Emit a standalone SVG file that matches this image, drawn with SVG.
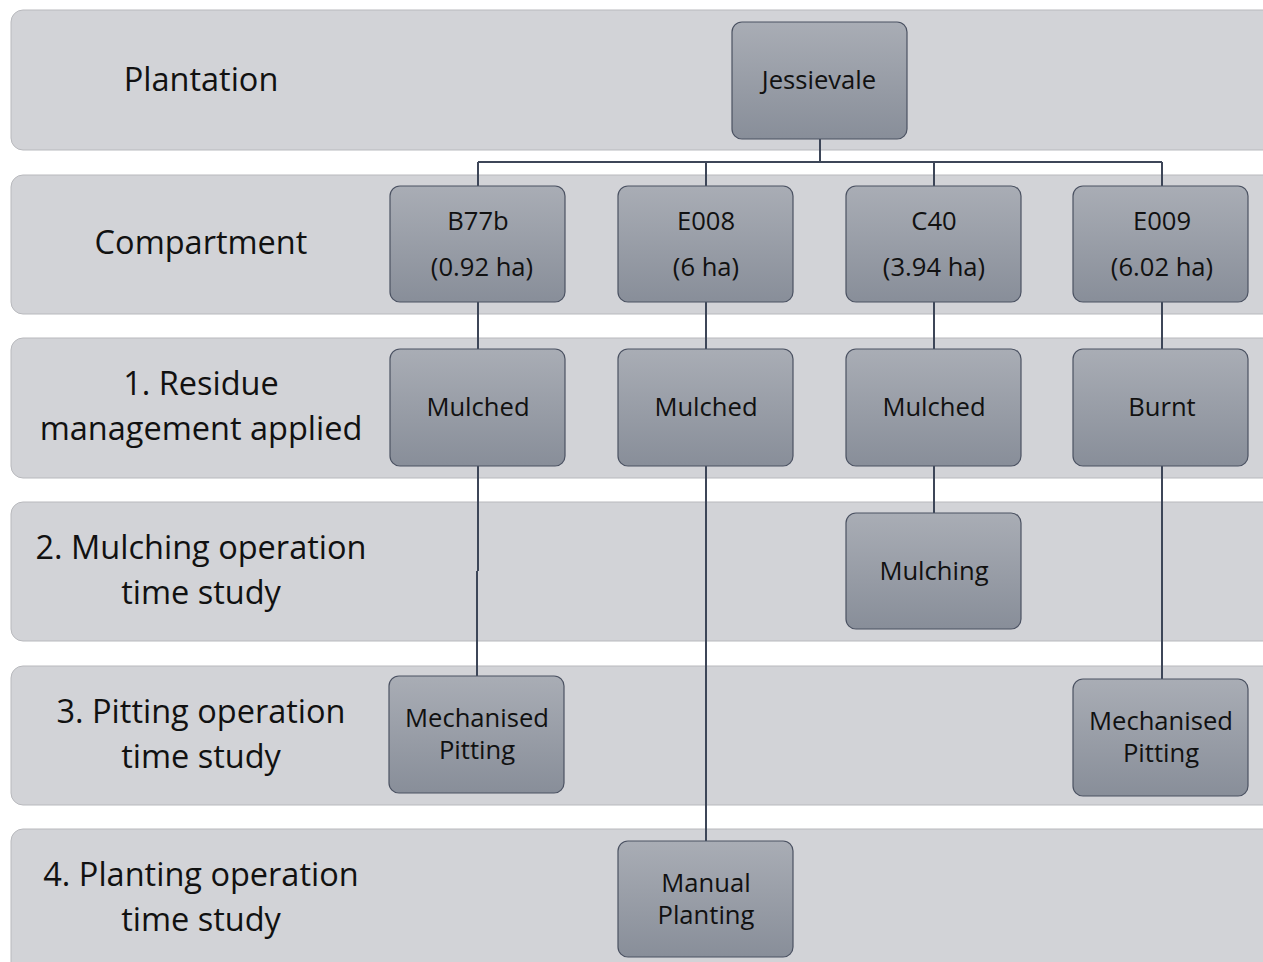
<svg xmlns="http://www.w3.org/2000/svg" width="1263" height="962" viewBox="0 0 1263 962">
<defs>
<linearGradient id="ng" x1="0" y1="0" x2="0" y2="1">
<stop offset="0" stop-color="#a9adb5"/>
<stop offset="1" stop-color="#888e99"/>
</linearGradient>
<style>
.band{fill:#d2d3d7;stroke:#b8b9bd;stroke-width:1}
.node{fill:url(#ng);stroke:#4b5262;stroke-width:1.2}
.lab{font-family:"Open Sans",Lato,sans-serif;font-size:32.5px;fill:#111;text-anchor:middle}
.nt{font-family:"Open Sans",Lato,sans-serif;font-size:25.6px;fill:#111;text-anchor:middle}
.con{stroke:#3d4658;stroke-width:2;fill:none}
</style>
</defs>
<rect width="1263" height="962" fill="#ffffff"/>
<g id="bands">
<rect class="band" x="11" y="10" width="1270" height="140" rx="12"/>
<rect class="band" x="11" y="175" width="1270" height="139" rx="12"/>
<rect class="band" x="11" y="338" width="1270" height="140" rx="12"/>
<rect class="band" x="11" y="502" width="1270" height="139" rx="12"/>
<rect class="band" x="11" y="666" width="1270" height="139" rx="12"/>
<rect class="band" x="11" y="829" width="1270" height="150" rx="12"/>
</g>
<g id="labels">
<text class="lab" x="201" y="91">Plantation</text>
<text class="lab" x="201" y="254">Compartment</text>
<text class="lab" x="201" y="395">1. Residue<tspan x="201" dy="44.5">management applied</tspan></text>
<text class="lab" x="201" y="559">2. Mulching operation<tspan x="201" dy="44.5">time study</tspan></text>
<text class="lab" x="201" y="723">3. Pitting operation<tspan x="201" dy="44.5">time study</tspan></text>
<text class="lab" x="201" y="886">4. Planting operation<tspan x="201" dy="44.5">time study</tspan></text>
</g>
<g id="connectors">
<path class="con" d="M820 139V162M478 162H1162M478 162V187M706 162V187M934 162V187M1162 162V187"/>
<path class="con" d="M478 302V349M706 302V349M934 302V349M1162 302V349"/>
<path class="con" d="M478 466V571M477 571V677M706 466V842M934 466V514M1162 466V680"/>
</g>
<g id="n-jessievale"><rect class="node" x="732" y="22" width="175" height="117" rx="10"/><text class="nt" x="819" y="89">Jessievale</text></g>
<g id="n-b77b"><rect class="node" x="390" y="186" width="175" height="116" rx="10"/><text class="nt" x="478" y="230">B77b</text><text class="nt" x="482" y="276">(0.92 ha)</text></g>
<g id="n-e008"><rect class="node" x="618" y="186" width="175" height="116" rx="10"/><text class="nt" x="706" y="230">E008</text><text class="nt" x="706" y="276">(6 ha)</text></g>
<g id="n-c40"><rect class="node" x="846" y="186" width="175" height="116" rx="10"/><text class="nt" x="934" y="230">C40</text><text class="nt" x="934" y="276">(3.94 ha)</text></g>
<g id="n-e009"><rect class="node" x="1073" y="186" width="175" height="116" rx="10"/><text class="nt" x="1162" y="230">E009</text><text class="nt" x="1162" y="276">(6.02 ha)</text></g>
<g id="n-mulched1"><rect class="node" x="390" y="349" width="175" height="117" rx="10"/><text class="nt" x="478" y="416">Mulched</text></g>
<g id="n-mulched2"><rect class="node" x="618" y="349" width="175" height="117" rx="10"/><text class="nt" x="706" y="416">Mulched</text></g>
<g id="n-mulched3"><rect class="node" x="846" y="349" width="175" height="117" rx="10"/><text class="nt" x="934" y="416">Mulched</text></g>
<g id="n-burnt"><rect class="node" x="1073" y="349" width="175" height="117" rx="10"/><text class="nt" x="1162" y="416">Burnt</text></g>
<g id="n-mulching"><rect class="node" x="846" y="513" width="175" height="116" rx="10"/><text class="nt" x="934" y="580">Mulching</text></g>
<g id="n-mechpit1"><rect class="node" x="389" y="676" width="175" height="117" rx="10"/><text class="nt" x="477" y="727">Mechanised<tspan x="477" dy="32">Pitting</tspan></text></g>
<g id="n-mechpit2"><rect class="node" x="1073" y="679" width="175" height="117" rx="10"/><text class="nt" x="1161" y="730">Mechanised<tspan x="1161" dy="32">Pitting</tspan></text></g>
<g id="n-manual"><rect class="node" x="618" y="841" width="175" height="116" rx="10"/><text class="nt" x="706" y="892">Manual<tspan x="706" dy="32">Planting</tspan></text></g>
</svg>
